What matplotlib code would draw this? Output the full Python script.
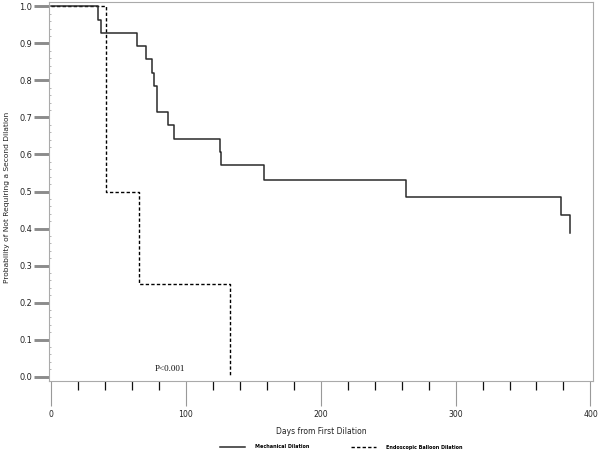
import matplotlib
matplotlib.use("Agg")
import matplotlib.pyplot as plt
from matplotlib.ticker import MultipleLocator

# Data
mech_days = [0, 35, 37, 63.5, 70.4, 75, 76.3, 78.3, 86.4, 91.4, 125.2, 126.2, 158.3, 263.5, 378.3, 385.2]
mech_prob = [1.0, 0.964, 0.929, 0.893, 0.857, 0.821, 0.786, 0.714, 0.679, 0.643, 0.607, 0.571, 0.531, 0.486, 0.437, 0.389]
balloon_days = [0, 40.8, 65.5, 132.7]
balloon_prob = [1.0, 0.5, 0.25, 0.0]
x_ticks = [0, 100, 200, 300, 400]
y_ticks = [0.0, 0.1, 0.2, 0.3, 0.4, 0.5, 0.6, 0.7, 0.8, 0.9, 1.0]

plt.rcParams['font.family'] = ['DejaVu Sans']

fig = plt.figure(figsize=(6.0, 4.54), dpi=100)
ax = fig.add_axes([49/600, 1-381/454, (593-49)/600, (381-2)/454])

l2, = ax.step(balloon_days, balloon_prob, where='post', color='black', lw=1.0,
              linestyle=(0, (2.4, 1.6)), label='Endoscopic Balloon Dilation')
l1, = ax.step(mech_days, mech_prob, where='post', color='#2a2a2a', lw=1.1,
              label='Mechanical Dilation')

ax.set_xlim(-1.5, 401.9)
ax.set_ylim(-0.0116, 1.0116)

ax.set_xticks(x_ticks)
ax.set_xticklabels([str(t) for t in x_ticks])
ax.set_yticks(y_ticks)
ax.set_yticklabels([f"{t:.1f}" for t in y_ticks])
ax.xaxis.set_minor_locator(MultipleLocator(20))
ax.yaxis.set_minor_locator(MultipleLocator(0.02))

ax.tick_params(axis='x', which='major', direction='out', length=18, width=0.8,
               color='#999999', labelsize=5.6, pad=3, labelcolor='#222222')
ax.tick_params(axis='x', which='minor', direction='out', length=6.5, width=0.9,
               color='#111111')
ax.tick_params(axis='y', which='major', direction='out', length=11, width=2.1,
               color='#8c8c8c', labelsize=5.9, pad=1.2, labelcolor='#222222')
ax.tick_params(axis='y', which='minor', direction='in', length=1.5, width=0.6,
               color='#aaaaaa')

for s in ax.spines.values():
    s.set_color('#aaaaaa')
    s.set_linewidth(0.8)

ax.text(77, 0.02, 'P<0.001', family='Liberation Serif', fontsize=6.5,
        ha='left', va='center', color='#111111')

fig.text(321/600, 1-432/454, 'Days from First Dilation', ha='center', va='center',
         fontsize=5.5, color='#222222')
fig.text(7/600, 1-197/454, 'Probability of Not Requiring a Second Dilation',
         rotation=90, ha='center', va='center', fontsize=5.4, color='#222222')

fig.legend(handles=[l1, l2], loc='center', bbox_to_anchor=(341/600, 1-447/454),
           ncol=2, frameon=False, prop={'size': 3.5, 'weight': 'bold'},
           handlelength=5.2, handletextpad=2.0, columnspacing=8.5)

fig.savefig('out.png', dpi=100)
